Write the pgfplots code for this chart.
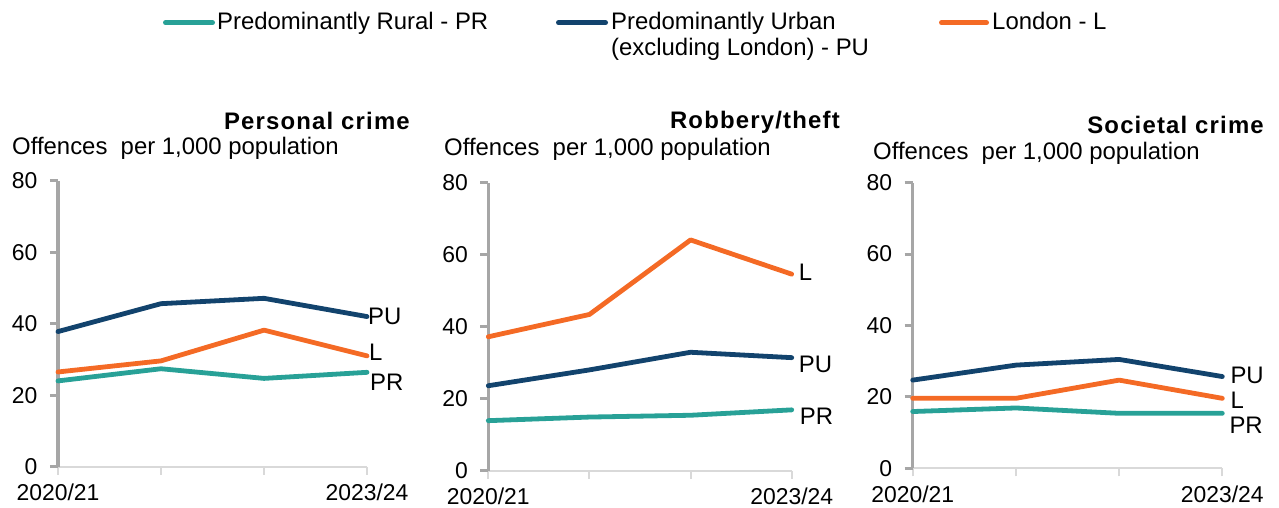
\documentclass[border=0pt]{standalone}
\usepackage{fontspec}
\setmainfont{Liberation Sans}
\newfontfamily\titlefont[LetterSpace=5]{Liberation Sans}
\usepackage{pgfplots}
\pgfplotsset{compat=1.18}
\definecolor{cPR}{HTML}{28A197}
\definecolor{cPU}{HTML}{12436D}
\definecolor{cL}{HTML}{F46A25}
\definecolor{yax}{HTML}{A6A6A6}
\definecolor{xax}{HTML}{D9D9D9}
\newcommand{\fs}{\fontsize{24}{29}\selectfont}
\newcommand{\ft}{\fontsize{23}{28}\selectfont}
\tikzset{lab/.style={anchor=west, inner sep=0pt, font=\fs}}
\pgfplotsset{
  panel/.style={
    scale only axis, clip=false,
    xmin=0, xmax=3, ymin=0, ymax=80,
    axis x line*=bottom, axis y line*=left,
    x axis line style={draw=xax, line width=2bp},
    y axis line style={draw=yax, line width=3bp},
    xtick={0,1,2,3}, xticklabels={2020/21,,,2023/24},
    ytick={0,20,40,60,80},
    tick align=outside, major tick length=8bp,
    x tick style={draw=xax, line width=2bp},
    y tick style={draw=yax, line width=3bp},
    tick label style={font=\ft},
    yticklabel style={xshift=-9bp},
    xticklabel style={yshift=-6bp},
    /pgf/number format/assume math mode=true,
    every axis plot/.append style={line width=4.8bp, line cap=round, line join=round},
  },
}
\begin{document}
\begin{tikzpicture}
\useasboundingbox (0,0) rectangle (1279bp,508bp);
% Legend
\draw[cPR, line width=5bp, line cap=round] (165.5bp,485.3bp) -- (212.5bp,485.3bp);
\node[anchor=base west, inner sep=0pt, font=\fs] at (217bp,478.7bp) {Predominantly Rural - PR};
\draw[cPU, line width=5bp, line cap=round] (558.5bp,485.3bp) -- (605.5bp,485.3bp);
\node[anchor=base west, inner sep=0pt, font=\fs] at (611bp,478.7bp) {Predominantly Urban};
\node[anchor=base west, inner sep=0pt, font=\fs] at (611bp,452bp) {(excluding London) - PU};
\draw[cL, line width=5bp, line cap=round] (941.5bp,485.3bp) -- (986.5bp,485.3bp);
\node[anchor=base west, inner sep=0pt, font=\fs] at (992bp,478.7bp) {London - L};
% Titles
\node[anchor=base east, inner sep=0pt, font=\fontsize{24}{29}\titlefont\bfseries] at (410bp,378bp) {Personal crime};
\node[anchor=base east, inner sep=0pt, font=\fontsize{24}{29}\titlefont\bfseries] at (840bp,379bp) {Robbery/theft};
\node[anchor=base east, inner sep=0pt, font=\fontsize{24}{29}\titlefont\bfseries] at (1264bp,374bp) {Societal crime};
\node[anchor=base west, inner sep=0pt, font=\fs] at (12bp,353bp) {Offences~ per 1,000 population};
\node[anchor=base west, inner sep=0pt, font=\fs] at (444bp,352.3bp) {Offences~ per 1,000 population};
\node[anchor=base west, inner sep=0pt, font=\fs] at (873bp,348bp) {Offences~ per 1,000 population};

% Panel 1: Personal crime
\begin{axis}[panel, at={(58bp,41.3bp)}, anchor=south west, width=309bp, height=286bp]
\addplot[cPR] coordinates {(0,24.0) (1,27.4) (2,24.7) (3,26.4)};
\addplot[cL] coordinates {(0,26.5) (1,29.6) (2,38.2) (3,31.0)};
\addplot[cPU] coordinates {(0,37.8) (1,45.6) (2,47.1) (3,42.0)};
\node[lab, xshift=1bp] at (axis cs:3,42.0) {PU};
\node[lab, xshift=2bp] at (axis cs:3,31.9) {L};
\node[lab, xshift=3bp] at (axis cs:3,23.5) {PR};
\end{axis}

% Panel 2: Robbery/theft
\begin{axis}[panel, at={(488.3bp,37.3bp)}, anchor=south west, width=303.4bp, height=288bp]
\addplot[cPR] coordinates {(0,13.9) (1,14.9) (2,15.4) (3,16.9)};
\addplot[cPU] coordinates {(0,23.6) (1,28.0) (2,32.9) (3,31.4)};
\addplot[cL] coordinates {(0,37.2) (1,43.4) (2,64.1) (3,54.6)};
\node[lab, xshift=7bp] at (axis cs:3,55.0) {L};
\node[lab, xshift=7bp] at (axis cs:3,29.6) {PU};
\node[lab, xshift=8bp] at (axis cs:3,15.2) {PR};
\end{axis}

% Panel 3: Societal crime
\begin{axis}[panel, at={(912.7bp,39.7bp)}, anchor=south west, width=309.6bp, height=285.6bp]
\addplot[cPR] coordinates {(0,15.9) (1,16.9) (2,15.4) (3,15.4)};
\addplot[cL] coordinates {(0,19.6) (1,19.6) (2,24.7) (3,19.6)};
\addplot[cPU] coordinates {(0,24.7) (1,28.9) (2,30.5) (3,25.7)};
\node[lab, xshift=8bp] at (axis cs:3,26.1) {PU};
\node[lab, xshift=8bp] at (axis cs:3,19.1) {L};
\node[lab, xshift=7bp] at (axis cs:3,12.1) {PR};
\end{axis}
\end{tikzpicture}
\end{document}
